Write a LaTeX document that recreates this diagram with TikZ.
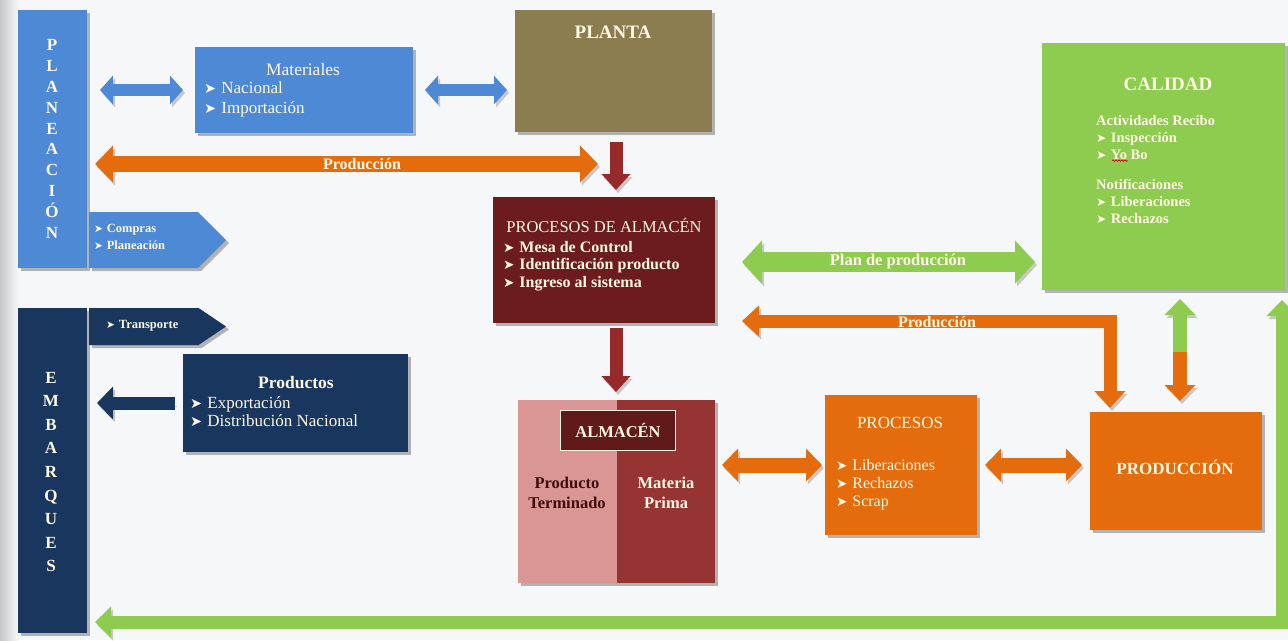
\documentclass[tikz,border=0pt]{standalone}
\usepackage{fontspec}
\usepackage{graphicx}
\setmainfont{Liberation Serif}
\newfontfamily\symf{DejaVu Sans}
\usetikzlibrary{arrows.meta,shadows,shapes.symbols,decorations.pathmorphing,calc}
\definecolor{pblue}{RGB}{77,137,212}
\definecolor{plantc}{RGB}{140,125,80}
\definecolor{dred}{RGB}{108,28,28}
\definecolor{arred}{RGB}{150,42,42}
\definecolor{cgreen}{RGB}{141,204,78}
\definecolor{corange}{RGB}{228,108,12}
\definecolor{navyc}{RGB}{24,54,94}
\definecolor{pinkc}{RGB}{217,150,148}
\definecolor{rosec}{RGB}{150,52,52}
\definecolor{inbox}{RGB}{96,26,26}
\definecolor{cream}{RGB}{255,248,228}
\definecolor{darktxt}{RGB}{60,14,14}
\definecolor{bgc}{RGB}{246,247,249}
\newcommand{\bl}{{\symf\scalebox{0.85}{➤}}\hspace{0.3em}}
\begin{document}
\begin{tikzpicture}[x=1pt,y=-1pt,
  box/.style={anchor=north west, inner sep=0pt, outer sep=0pt, draw=none,
    drop shadow={shadow xshift=3pt, shadow yshift=-3pt, opacity=0.28, fill=black}},
  lbl/.style={inner sep=0pt, text=cream},
  sig/.style={signal, signal to=east, anchor=north west, inner sep=0pt, outer sep=0pt,
    drop shadow={shadow xshift=3pt, shadow yshift=-3pt, opacity=0.28, fill=black}},
  ash/.style={preaction={draw=black!22, transform canvas={shift={(2pt,-3pt)}}}}
]
\useasboundingbox (0,0) rectangle (1288,640);
\fill[bgc] (0,0) rectangle (1288,640);
\shade[left color=black!22, right color=bgc] (0,0) rectangle (18,640);

% ---------- boxes ----------
\node[box, fill=pblue, minimum width=69pt, minimum height=258pt] (plan) at (18,10) {};
\node[sig, fill=pblue, minimum width=137pt, minimum height=56pt, signal pointer angle=90] (comp) at (89,212) {};
\node[box, fill=pblue, minimum width=218pt, minimum height=86pt] (mat) at (195,47) {};
\node[box, fill=plantc, minimum width=197pt, minimum height=122pt] (planta) at (515,10) {};
\node[box, fill=dred, minimum width=222pt, minimum height=126pt] (procalm) at (493,197) {};
\node[box, fill=cgreen, minimum width=243pt, minimum height=247pt] (cal) at (1042,43) {};
\node[box, fill=navyc, minimum width=69pt, minimum height=325pt] (emb) at (18,308) {};
\node[sig, fill=navyc, minimum width=137pt, minimum height=37pt, signal pointer angle=68] (trans) at (89,308) {};
\node[box, fill=navyc, minimum width=225pt, minimum height=98pt] (prods) at (183,354) {};
\node[box, fill=pinkc, minimum width=99pt, minimum height=183pt] (almL) at (518,400) {};
\node[box, fill=rosec, minimum width=98pt, minimum height=183pt] (almR) at (617,400) {};
\node[anchor=north west, fill=inbox, draw=cream, line width=1pt, minimum width=115pt, minimum height=40pt, inner sep=0pt] (almT) at (560,410) {};
\node[box, fill=corange, minimum width=152pt, minimum height=140pt] (proc) at (825,395) {};
\node[box, fill=corange, minimum width=172pt, minimum height=118pt] (prod) at (1090,412) {};

% ---------- texts ----------
\node[lbl, align=center, font=\bfseries\fontsize{17}{20.8}\selectfont] (planT) at (52,139) {P\\L\\A\\N\\E\\A\\C\\I\\Ó\\N};
\node[lbl, align=center, font=\bfseries\fontsize{17}{23.6}\selectfont] (embT) at (51,472) {E\\M\\B\\A\\R\\Q\\U\\E\\S};
\node[lbl, anchor=north west, align=left, font=\bfseries\fontsize{12.5}{17}\selectfont] (compT) at (94,224) {\bl Compras\\\bl Planeación};
\node[lbl, anchor=west, font=\bfseries\fontsize{12.5}{14}\selectfont] (transT) at (106,326) {\bl Transporte};
\node[lbl, font=\fontsize{17.5}{20}\selectfont] (matT) at (303,70) {Materiales};
\node[lbl, anchor=north west, align=left, font=\fontsize{17}{20}\selectfont] (matL) at (204,82) {\bl Nacional\\\bl Importación};
\node[lbl, font=\bfseries\fontsize{19}{22}\selectfont] (plantaT) at (613,32) {PLANTA};
\node[lbl, font=\fontsize{16.5}{19}\selectfont] (procalmT) at (604,225) {PROCESOS DE ALMACÉN};
\node[lbl, anchor=north west, align=left, font=\bfseries\fontsize{16}{17.5}\selectfont] (procalmL) at (503,241) {\bl Mesa de Control\\\bl Identificación producto\\\bl Ingreso al sistema};
\node[lbl, font=\bfseries\fontsize{19}{22}\selectfont] (calT) at (1168,84) {CALIDAD};
\node[lbl, anchor=north west, align=left, font=\bfseries\fontsize{14.5}{17}\selectfont] (calA) at (1096,115) {Actividades Recibo\\\bl Inspección\\\bl Yo Bo};
\node[lbl, anchor=north west, align=left, font=\bfseries\fontsize{14.5}{17}\selectfont] (calB) at (1096,179) {Notificaciones\\\bl Liberaciones\\\bl Rechazos};
\draw[red!80!black, line width=0.7pt, decorate, decoration={snake, amplitude=0.7pt, segment length=3pt}] ($(calA.south west)+(16,1)$) -- ++(16,0);
\node[lbl, font=\bfseries\fontsize{17.5}{20}\selectfont] (prodsT) at (296,383) {Productos};
\node[lbl, anchor=north west, align=left, font=\fontsize{17}{18}\selectfont] (prodsL) at (190,396) {\bl Exportación\\\bl Distribución Nacional};
\node[lbl, font=\bfseries\fontsize{16.5}{19}\selectfont] (almTT) at (almT.center) {ALMACÉN};
\node[inner sep=0pt, text=darktxt, align=center, font=\bfseries\fontsize{16.5}{20}\selectfont] (almLT) at (567,493) {Producto\\Terminado};
\node[lbl, align=center, font=\bfseries\fontsize{16.5}{20}\selectfont] (almRT) at (666,493) {Materia\\Prima};
\node[lbl, font=\fontsize{17}{20}\selectfont] (procT) at (900,423) {PROCESOS};
\node[lbl, anchor=north west, align=left, font=\fontsize{16}{18}\selectfont] (procL) at (836,459) {\bl Liberaciones\\\bl Rechazos\\\bl Scrap};
\node[lbl, font=\bfseries\fontsize{17}{20}\selectfont] (prodT) at (1175,467) {PRODUCCIÓN};

% ---------- connectors ----------
\draw[ash, pblue, line width=12pt, {Triangle[length=13pt,width=28pt]}-{Triangle[length=13pt,width=28pt]}, shorten <=13pt, shorten >=12pt]
  (plan.east |- mat.west) -- (mat.west);
\draw[ash, pblue, line width=12pt, {Triangle[length=13pt,width=28pt]}-{Triangle[length=13pt,width=28pt]}, shorten <=12pt, shorten >=8pt]
  (mat.east) -- (mat.east -| planta.west);
\coordinate (oe) at (598,164);
\draw[ash, corange, line width=16pt, {Triangle[length=18pt,width=36pt]}-{Triangle[length=18pt,width=36pt]}, shorten <=8pt]
  (oe -| plan.east) -- (oe);
\node[lbl, font=\bfseries\fontsize{16}{18}\selectfont] (prodLab1) at (362,164) {Producción};
\coordinate (rx) at (616,0);
\draw[ash, arred, line width=13pt, -{Triangle[length=16pt,width=28pt]}, shorten <=10pt, shorten >=7pt]
  (rx |- planta.south) -- (rx |- procalm.north);
\draw[ash, arred, line width=13pt, -{Triangle[length=16pt,width=28pt]}, shorten <=5pt, shorten >=8pt]
  (rx |- procalm.south) -- (rx |- almR.north);
\coordinate (gy) at (0,262);
\draw[ash, cgreen, line width=20pt, {Triangle[length=20pt,width=42pt]}-{Triangle[length=20pt,width=42pt]}, shorten <=27pt, shorten >=7pt]
  (gy -| procalm.east) -- (gy -| cal.west);
\node[lbl, font=\bfseries\fontsize{16.5}{18}\selectfont] (planLab) at (898,262) {Plan de producción};
\coordinate (elb) at (1110,321);
\draw[ash, corange, line width=13pt, line join=miter, {Triangle[length=17pt,width=30pt]}-{Triangle[length=17pt,width=30pt]}, shorten <=27pt, shorten >=4pt]
  (elb -| procalm.east) -- (elb) -- (elb |- prod.north);
\node[lbl, font=\bfseries\fontsize{16}{18}\selectfont] (prodLab2) at (937,322) {Producción};
\coordinate (cp) at (1180,352);
\draw[ash, cgreen, line width=14pt, -{Triangle[length=16pt,width=30pt]}, shorten >=9pt]
  (cp) -- (cp |- cal.south);
\draw[ash, corange, line width=14pt, -{Triangle[length=16pt,width=30pt]}, shorten >=11pt]
  (cp) -- (cp |- prod.north);
\draw[ash, corange, line width=15pt, {Triangle[length=16pt,width=32pt]}-{Triangle[length=16pt,width=32pt]}, shorten <=7pt, shorten >=3pt]
  (almR.east |- proc.west) -- (proc.west);
\draw[ash, corange, line width=15pt, {Triangle[length=16pt,width=32pt]}-{Triangle[length=16pt,width=32pt]}, shorten <=8pt, shorten >=8pt]
  (proc.east) -- (proc.east -| prod.west);
\draw[ash, navyc, line width=13pt, -{Triangle[length=16pt,width=32pt]}, shorten <=8pt, shorten >=10pt]
  (prods.west) -- (prods.west -| emb.east);
\coordinate (gl) at (1282,622);
\draw[ash, cgreen, line width=13pt, line join=miter, {Triangle[length=16pt,width=30pt]}-{Triangle[length=16pt,width=30pt]}, shorten <=10pt, shorten >=8pt]
  (gl |- cal.south) -- (gl) -- (gl -| emb.east);
\end{tikzpicture}
\end{document}
